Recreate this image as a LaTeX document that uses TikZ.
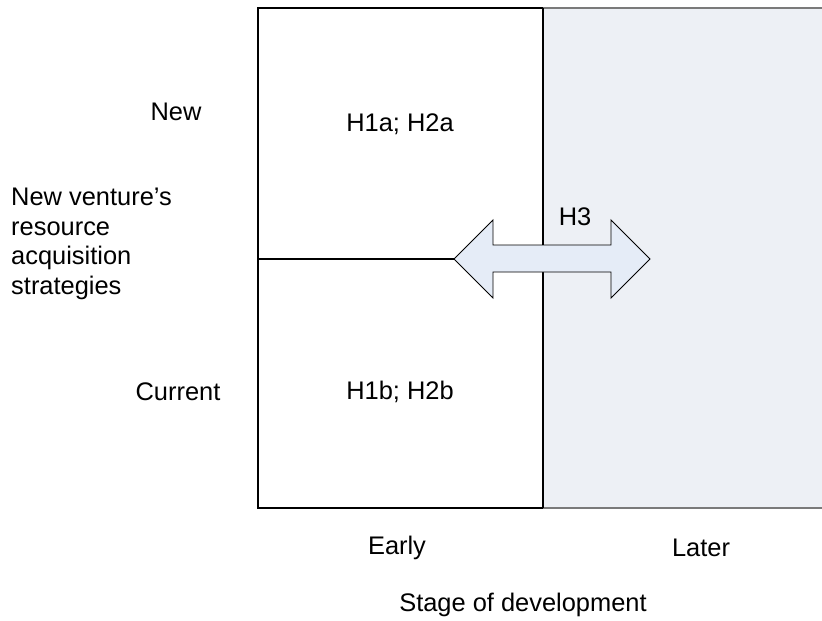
\documentclass[tikz,border=0pt]{standalone}
\usepackage{fontspec}
\setmainfont{Liberation Sans}
\usetikzlibrary{positioning}

\definecolor{laterfill}{HTML}{EDF0F5}
\definecolor{arrowfill}{HTML}{E5ECF7}
\definecolor{edgegray}{HTML}{7A7A7A}

\tikzset{
  lbl/.style={font=\fontsize{21.7}{25.2}\selectfont, inner sep=0pt},
  grid/.style={line width=1.1pt, black}
}

\begin{document}
\begin{tikzpicture}[x=0.03cm, y=-0.03cm]
\useasboundingbox (0,0) rectangle (822,620);

% later stage
\fill[laterfill] (543,8) rectangle (822,508);
\draw[edgegray, line width=1.1pt] (543,8) -- (822,8);
\draw[edgegray, line width=1.1pt] (543,508) -- (822,508);

% early stage
\draw[grid] (543,8) -- (258,8) -- (258,508) -- (543,508);
\draw[grid] (543,8) -- (543,508);
\coordinate (mid) at (258,259);

% H3 arrow
\filldraw[fill=arrowfill, draw=black, line width=0.8pt]
  (454,259) coordinate (tipL) -- (493,220) -- (493,245) -- (611,245) -- (611,220)
  -- (650,259) coordinate (tipR) -- (611,298) -- (611,272) -- (493,272) -- (493,298) -- cycle;
\draw[grid] (mid) -- (tipL);

\node[lbl] (new)  at (176,112) {New};
\node[lbl] (cur)  at (178,392) {Current};
\node[lbl] (h1a)  at (400,124) {H1a; H2a};
\node[lbl] (h1b)  at (400,392) {H1b; H2b};
\node[lbl] (h3)   at (575,217) {H3};
\node[lbl, anchor=west, align=left] (nvr) at (11,244)
  {New venture’s\\resource\\acquisition\\strategies};

\node[lbl] (early) at (397,548) {Early};
\node[lbl] (later) at (701,548) {Later};
\node[lbl] (stage) at (523,605) {Stage of development};
\end{tikzpicture}
\end{document}
